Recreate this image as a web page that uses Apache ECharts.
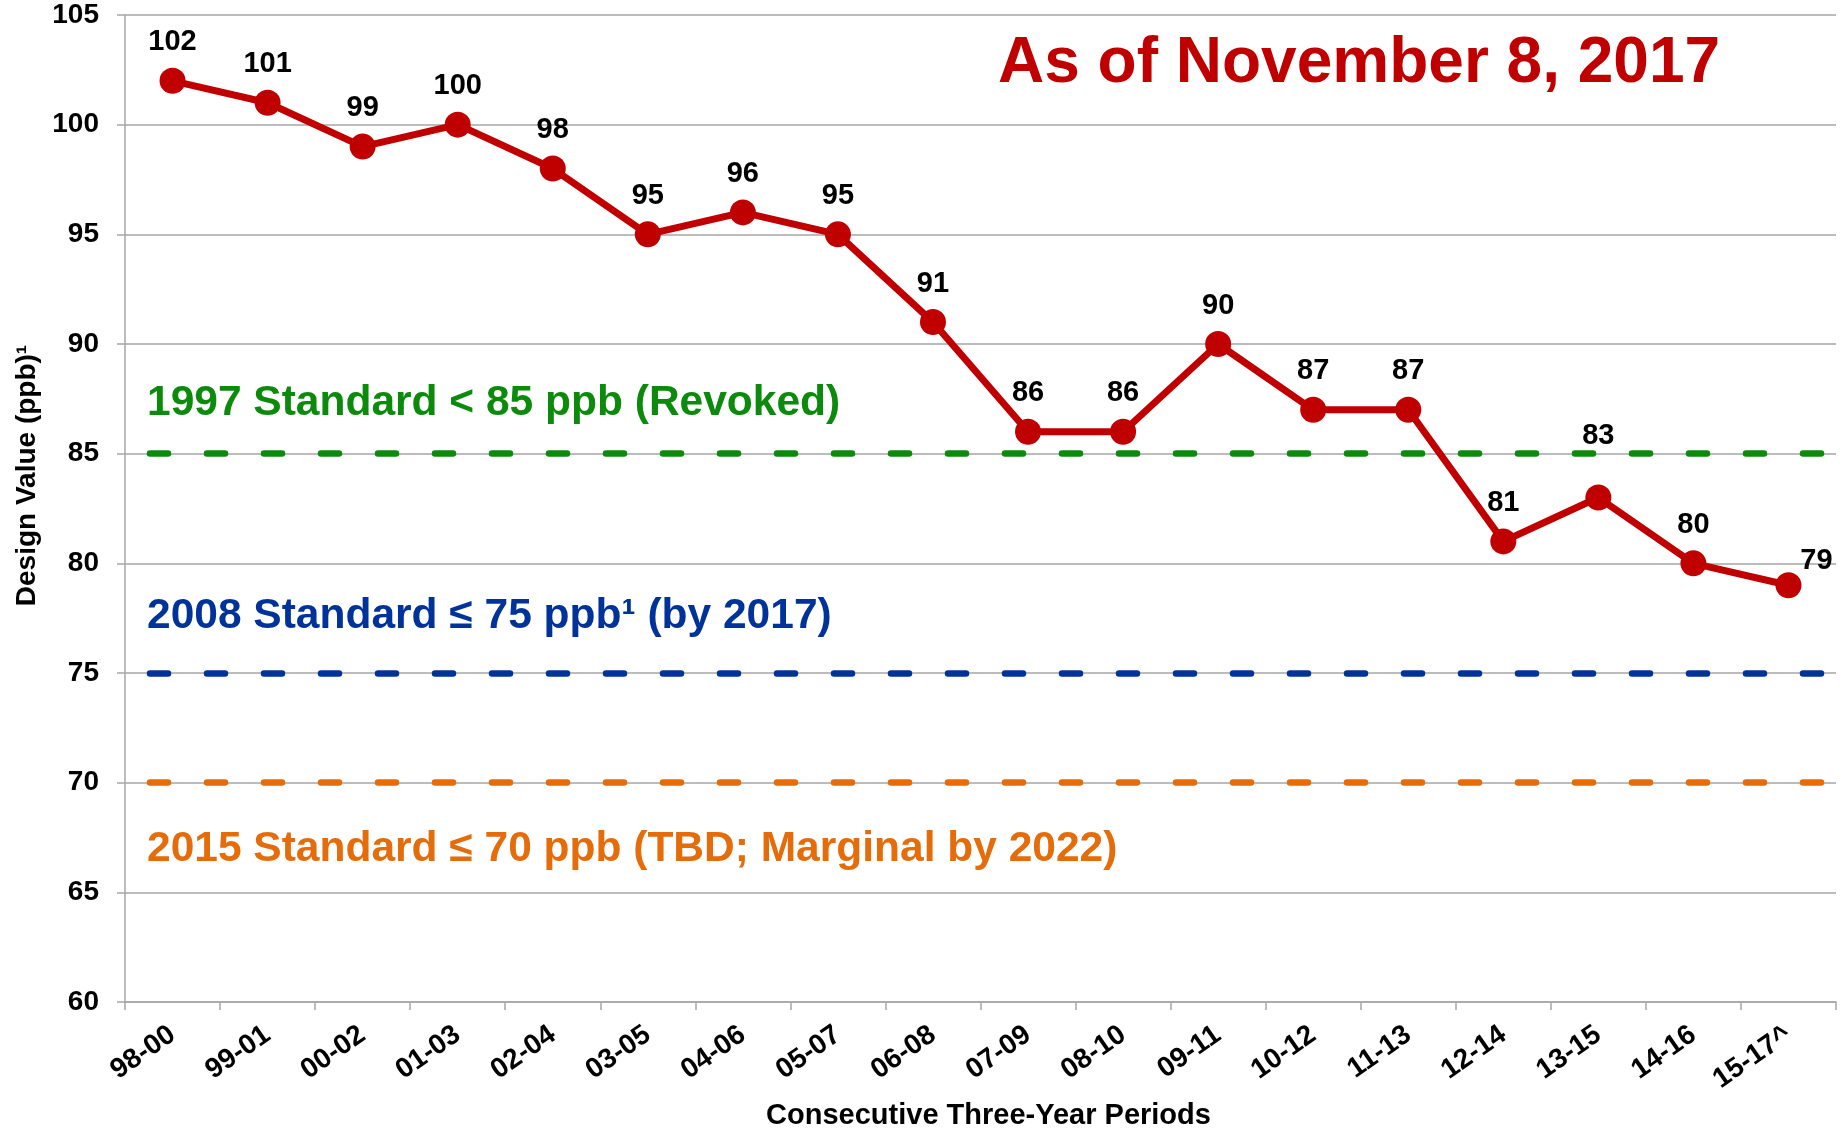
<!DOCTYPE html>
<html>
<head>
<meta charset="utf-8">
<title>Design Value</title>
<script src="https://cdn.jsdelivr.net/npm/echarts@6/dist/echarts.min.js"></script>
<style>
  html, body { margin: 0; padding: 0; background: #fff; }
  #chart { width: 1845px; height: 1131px; }
</style>
</head>
<body>
<div id="chart"></div>
<script>
// three-year periods and the design value for each one (ppb)
var periods = ['98-00', '99-01', '00-02', '01-03', '02-04', '03-05', '04-06', '05-07', '06-08',
               '07-09', '08-10', '09-11', '10-12', '11-13', '12-14', '13-15', '14-16', '15-17^'];
var designValues = [102, 101, 99, 100, 98, 95, 96, 95, 91, 86, 86, 90, 87, 87, 81, 83, 80, 79];

// y axis ticks
var yMin = 60;
var yMax = 105;
var yStep = 5;

// ozone standards (dashed lines)
var standardLevels = [85, 75, 70];
var standardNames = [
  '1997 Standard < 85 ppb (Revoked)',
  '2008 Standard \u2264 75 ppb\u00b9 (by 2017)',
  '2015 Standard \u2264 70 ppb (TBD; Marginal by 2022)'
];
var standardColors = ['#0b8a0b', '#003399', '#e46c0a'];

var FONT = '"Liberation Sans", Arial, sans-serif';
var GRID_GRAY = '#a6a6a6';

var chart = echarts.init(document.getElementById('chart'));

// a couple of labels were moved by hand in the original
var labelShift = { 15: [0, -23], 17: [28, 14] };
var pointData = designValues.map(function (v, i) {
  if (labelShift[i]) {
    return { value: v, label: { offset: labelShift[i] } };
  }
  return v;
});

// where the standard names are written
var noteY = [403, 616, 849];

chart.setOption({
  animation: false,
  title: {
    text: 'As of November 8, 2017',
    left: 993,
    top: 27,
    textStyle: { fontFamily: FONT, fontSize: 64, fontWeight: 'bold', color: '#c00000' }
  },
  grid: { left: 125, right: 9, top: 15, bottom: 129, containLabel: false, outerBoundsMode: 'none' },
  xAxis: {
    type: 'category',
    data: periods,
    boundaryGap: true,
    name: 'Consecutive Three-Year Periods',
    nameLocation: 'middle',
    nameGap: 99,
    nameTextStyle: { fontFamily: FONT, fontSize: 29, fontWeight: 'bold', color: '#000', padding: [0, 0, 0, 16] },
    axisLine: { lineStyle: { color: GRID_GRAY, width: 1.5 } },
    axisTick: { show: true, length: 8, lineStyle: { color: GRID_GRAY, width: 1.5 } },
    axisLabel: { rotate: 35, margin: 30, interval: 0, fontFamily: FONT, fontSize: 28, fontWeight: 'bold', color: '#000' },
    splitLine: { show: false }
  },
  yAxis: {
    type: 'value',
    min: yMin,
    max: yMax,
    interval: yStep,
    name: 'Design Value (ppb)\u00b9',
    nameLocation: 'middle',
    nameRotate: 90,
    nameGap: 84,
    nameTextStyle: { fontFamily: FONT, fontSize: 28, fontWeight: 'bold', color: '#000', padding: [0, 0, 0, 66] },
    axisLine: { show: true, lineStyle: { color: GRID_GRAY, width: 1.5 } },
    axisTick: { show: true, length: 8, lineStyle: { color: GRID_GRAY, width: 1.5 } },
    axisLabel: { margin: 26, fontFamily: FONT, fontSize: 28, fontWeight: 'bold', color: '#000' },
    splitLine: { show: true, lineStyle: { color: GRID_GRAY, width: 1.5 } }
  },
  graphic: standardNames.map(function (txt, i) {
    return {
      type: 'text',
      x: 147,
      y: noteY[i],
      z: 10,
      style: {
        text: txt,
        font: 'bold 42.5px ' + FONT,
        fill: standardColors[i],
        verticalAlign: 'middle',
        align: 'left'
      }
    };
  }),
  series: [{
    type: 'line',
    data: pointData,
    symbol: 'circle',
    symbolSize: 26,
    itemStyle: { color: '#c00000' },
    lineStyle: { color: '#c00000', width: 7 },
    z: 5,
    label: {
      show: true,
      position: 'top',
      distance: 11,
      fontFamily: FONT,
      fontSize: 29,
      fontWeight: 'bold',
      color: '#000'
    },
    markLine: {
      silent: true,
      symbol: 'none',
      label: { show: false },
      z: 3,
      data: standardLevels.map(function (v, i) {
        return {
          yAxis: v,
          lineStyle: { color: standardColors[i], width: 6.5, type: [18, 39], dashOffset: 32, cap: 'round' }
        };
      })
    }
  }]
});
</script>
</body>
</html>
